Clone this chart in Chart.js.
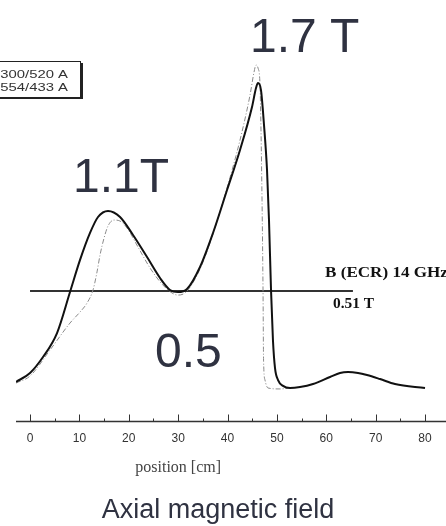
<!DOCTYPE html>
<html>
<head>
<meta charset="utf-8">
<script src="https://cdn.jsdelivr.net/npm/chart.js@4"></script>
<style>
  body { margin: 0; background: #fff; }
  canvas { display: block; }
</style>
</head>
<body>
<canvas id="chartField" width="446" height="526"></canvas>
<script>
// position along axis [cm] and field [T]
const solidX = [-2.84, 0, 2.63, 5.47, 8.10, 10.13, 12.15, 13.77, 15.80, 18.23, 20.86, 23.70, 26.33, 28.35, 29.97, 31.80, 34.43, 37.06, 39.90, 42.53, 44.96, 45.77, 46.18, 46.78, 47.39, 48.00, 48.40, 48.81, 49.20, 49.62, 50.23, 51.24, 52.66, 54.68, 57.32, 60.76, 62.78, 64.41, 66.43, 68.25, 70.89, 73.92, 80.0]
const solidY = [0.032, 0.079, 0.163, 0.289, 0.505, 0.674, 0.816, 0.900, 0.932, 0.900, 0.805, 0.689, 0.579, 0.516, 0.505, 0.521, 0.637, 0.816, 1.042, 1.253, 1.479, 1.579, 1.605, 1.568, 1.384, 1.147, 0.884, 0.516, 0.253, 0.105, 0.042, 0.011, 0.000, 0.005, 0.021, 0.058, 0.079, 0.084, 0.079, 0.068, 0.047, 0.021, 0.000]

const dashX = [-2.84, 0, 4.05, 8.10, 10.13, 11.54, 12.76, 13.57, 14.18, 14.99, 15.80, 17.0, 18.2, 19.65, 21.87, 24.30, 26.73, 28.76, 29.97, 31.59, 34.43, 37.06, 39.90, 42.53, 44.56, 45.37, 45.77, 46.18, 46.58, 46.78, 46.99, 47.19, 47.30, 47.59, 48.20, 50.63, 52.66]
const dashY = [0.026, 0.063, 0.200, 0.342, 0.400, 0.447, 0.516, 0.611, 0.700, 0.789, 0.853, 0.884, 0.879, 0.842, 0.742, 0.632, 0.547, 0.500, 0.489, 0.505, 0.626, 0.811, 1.053, 1.305, 1.542, 1.663, 1.700, 1.684, 1.595, 1.358, 0.989, 0.516, 0.147, 0.042, 0.000, -0.005, 0.000]

const ecrX = [0, 65.4]
const ecrY = [0.51, 0.51]

const tickValues = [0, 10, 20, 30, 40, 50, 60, 70, 80]
const minorTicks = [5, 15, 25, 35, 45, 55, 65, 75]

const legendLines = ['300/520 A', '554/433 A']

const toPoints = (xs, ys) => xs.map((v, i) => ({ x: v, y: ys[i] }))

// big labels and small notes, placed in data units
const notes = [
    { text: '1.7 T', x: 44.56, y: 1.768, font: '48px "Liberation Sans", Arial, sans-serif', color: '#2f3241', sx: 1 },
    { text: '1.1T', x: 8.71, y: 1.032, font: '48px "Liberation Sans", Arial, sans-serif', color: '#2f3241', sx: 1 },
    { text: '0.5', x: 25.3, y: 0.11, font: '48px "Liberation Sans", Arial, sans-serif', color: '#2f3241', sx: 1 },
    { text: 'B (ECR) 14 GHz', x: 59.75, y: 0.584, font: 'bold 14px "Liberation Serif", "Times New Roman", serif', color: '#111', sx: 1.22 },
    { text: '0.51 T', x: 61.37, y: 0.421, font: 'bold 14px "Liberation Serif", "Times New Roman", serif', color: '#111', sx: 1.1 }
]

const overlay = {
    id: 'overlay',
    afterDraw(chart) {
        const { ctx, chartArea, scales: { x, y } } = chart
        ctx.save()

        // axis line, ticks point upward
        const ay = chartArea.bottom + 0.5
        ctx.strokeStyle = '#333'
        ctx.lineWidth = 1.5
        ctx.beginPath()
        ctx.moveTo(chartArea.left, ay)
        ctx.lineTo(chartArea.right, ay)
        ctx.stroke()
        ctx.lineWidth = 1
        ctx.beginPath()
        tickValues.forEach(v => {
            const px = Math.round(x.getPixelForValue(v)) + 0.5
            ctx.moveTo(px, ay); ctx.lineTo(px, ay - 7)
        })
        minorTicks.forEach(v => {
            const px = Math.round(x.getPixelForValue(v)) + 0.5
            ctx.moveTo(px, ay); ctx.lineTo(px, ay - 3)
        })
        ctx.stroke()

        // notes
        notes.forEach(n => {
            ctx.save()
            ctx.font = n.font
            ctx.fillStyle = n.color
            ctx.textBaseline = 'alphabetic'
            ctx.translate(x.getPixelForValue(n.x), y.getPixelForValue(n.y))
            ctx.scale(n.sx, 1)
            ctx.fillText(n.text, 0, 0)
            ctx.restore()
        })

        // axis title
        ctx.font = '16px "Liberation Serif", "Times New Roman", serif'
        ctx.fillStyle = '#444'
        ctx.textAlign = 'center'
        ctx.fillText('position [cm]', x.getPixelForValue(30), 472)

        // caption
        ctx.font = '27px "Liberation Sans", Arial, sans-serif'
        ctx.fillStyle = '#2f3241'
        ctx.fillText('Axial magnetic field', 218, 518)

        // legend box (cut at left edge)
        ctx.fillStyle = '#fff'
        ctx.fillRect(-5, 61, 86, 36)
        ctx.fillStyle = '#222'
        ctx.fillRect(81, 63, 2, 36)
        ctx.fillRect(-5, 97, 88, 2)
        ctx.strokeStyle = '#222'
        ctx.lineWidth = 1
        ctx.strokeRect(-5.5, 61.5, 86, 36)
        ctx.font = '11px "Liberation Sans", Arial, sans-serif'
        ctx.fillStyle = '#333'
        ctx.textAlign = 'right'
        legendLines.forEach((t, i) => {
            ctx.save()
            ctx.translate(68, 78 + i * 13)
            ctx.scale(1.35, 1)
            ctx.fillText(t, 0, 0)
            ctx.restore()
        })

        ctx.restore()
    }
}

new Chart(document.getElementById('chartField'), {
    type: 'line',
    data: {
        datasets: [{
            label: '300/520 A',
            data: toPoints(solidX, solidY),
            borderColor: '#111',
            borderWidth: 2,
            pointRadius: 0,
            cubicInterpolationMode: 'monotone'
        }, {
            label: '554/433 A',
            data: toPoints(dashX, dashY),
            borderColor: '#8a8a8a',
            borderWidth: 1,
            borderDash: [5, 2, 1, 2],
            pointRadius: 0,
            cubicInterpolationMode: 'monotone'
        }, {
            label: 'B (ECR)',
            data: toPoints(ecrX, ecrY),
            borderColor: '#333',
            borderWidth: 2,
            pointRadius: 0,
            tension: 0
        }]
    },
    options: {
        responsive: false,
        animation: false,
        devicePixelRatio: 1,
        layout: { padding: { left: 16, right: 0, top: 0, bottom: 0 } },
        scales: {
            x: {
                type: 'linear',
                min: -2.84,
                max: 84.25,
                afterBuildTicks: s => { s.ticks = tickValues.map(v => ({ value: v })) },
                afterFit: s => { s.height = 105 },
                ticks: {
                    autoSkip: false,
                    maxRotation: 0,
                    padding: 10,
                    color: '#333',
                    font: { family: '"Liberation Sans", Arial, sans-serif', size: 12 }
                },
                grid: { display: false, drawTicks: false },
                border: { display: false }
            },
            y: {
                display: false,
                min: -0.1737,
                max: 2.0421
            }
        },
        plugins: {
            legend: { display: false },
            tooltip: { enabled: false }
        }
    },
    plugins: [overlay]
})
</script>
</body>
</html>
